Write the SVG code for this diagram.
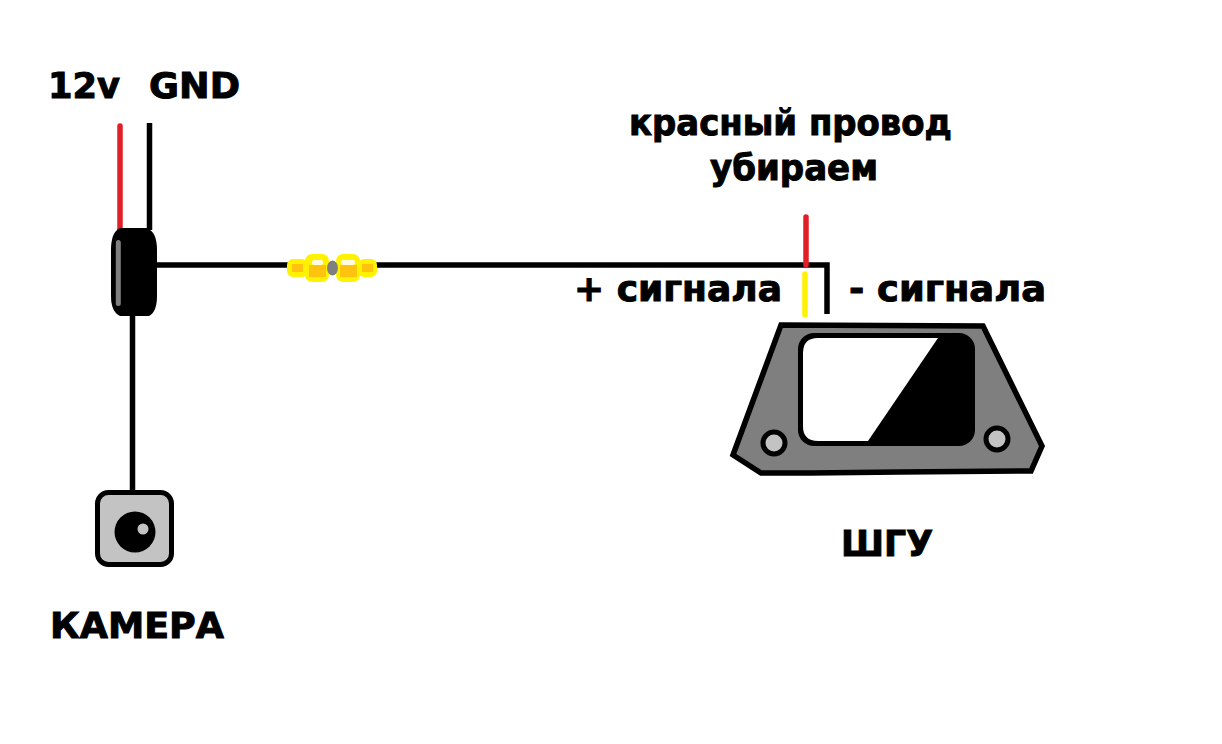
<svg xmlns="http://www.w3.org/2000/svg" width="1222" height="744" viewBox="0 0 1222 744">
<style>
.t{font-family:"DejaVu Sans",sans-serif;font-weight:700;font-size:36px;fill:#000;stroke:#000;stroke-width:1;paint-order:stroke}
.w{fill:none;stroke:#000;stroke-width:5.500}
.r{fill:none;stroke:#e01f26;stroke-width:5.500;stroke-linecap:round}
.y{fill:none;stroke:#fff200;stroke-width:5.500;stroke-linecap:round}
.o{fill:#7f7f7f;stroke:#000;stroke-width:5.500}
.h{fill:#c3c3c3;stroke:#000;stroke-width:5}
.c{fill:#fff200}
.f{fill:#ffc20e}
.v{fill:#fffbe0}
</style>
<rect width="1222" height="744" fill="#fff"/>
<g id="connectors">
<path class="r" d="M120 126V230"/>
<path class="w" d="M149.500 123V230"/>
<path class="w" d="M157 265H290M375 265H827V314"/>
<path class="w" d="M132.500 314V492"/>
<path class="r" d="M806 217V265"/>
<path class="y" d="M805 274V315"/>
</g>
<g id="splitter">
<path d="M120 228H147Q157 232 157 250V296Q157 312 149 316H120Q111 312 111 296V250Q111 232 120 228Z" fill="#000"/>
<path d="M118.300 242.500V303.500" stroke="#7f7f7f" stroke-width="5" stroke-linecap="round" fill="none"/>
</g>
<g id="inline-connector">
<rect class="c" x="287" y="259" width="21" height="18" rx="6"/>
<rect class="c" x="305" y="254" width="24" height="28" rx="7"/>
<rect class="c" x="336" y="254" width="24" height="28" rx="7"/>
<rect class="c" x="358" y="259" width="19" height="18" rx="6"/>
<rect class="f" x="292" y="264" width="11" height="8"/>
<rect class="f" x="309" y="265" width="17" height="12"/>
<rect class="f" x="340" y="265" width="17" height="12"/>
<rect class="f" x="362" y="264" width="11" height="8"/>
<rect class="v" x="312" y="260" width="11" height="5" rx="2"/>
<rect class="v" x="341" y="260" width="14" height="5" rx="2"/>
<ellipse cx="332.500" cy="268" rx="5.500" ry="7.500" fill="#7f7f7f"/>
</g>
<g id="camera">
<rect class="h" x="97.500" y="492.500" width="74" height="72" rx="11"/>
<circle cx="135" cy="532" r="20.500" fill="#000"/>
<circle cx="143" cy="529" r="5.500" fill="#c3c3c3"/>
</g>
<g id="head-unit">
<path class="o" d="M781 325L983 326L1042 446L1031 471L900 472L810 473L761 473L733 455Z"/>
<rect x="798" y="333" width="177" height="113" rx="16" fill="#000"/>
<path d="M938 338H818Q803 338 803 353V426Q803 441 818 441H868Z" fill="#fff"/>
<circle class="h" cx="774" cy="443" r="11"/>
<circle class="h" cx="997" cy="439" r="11"/>
</g>
<g id="labels">
<text class="t" x="48" y="98" textLength="72" lengthAdjust="spacingAndGlyphs">12v</text>
<text class="t" x="149" y="98" textLength="91" lengthAdjust="spacingAndGlyphs">GND</text>
<text class="t" x="629" y="135" textLength="323" lengthAdjust="spacingAndGlyphs">красный провод</text>
<text class="t" x="710" y="180" textLength="168" lengthAdjust="spacingAndGlyphs">убираем</text>
<text class="t" x="574" y="301" textLength="208" lengthAdjust="spacingAndGlyphs">+ сигнала</text>
<text class="t" x="849" y="301" textLength="197" lengthAdjust="spacingAndGlyphs">- сигнала</text>
<text class="t" x="841" y="556" textLength="92" lengthAdjust="spacingAndGlyphs">ШГУ</text>
<text class="t" x="50" y="638" textLength="174" lengthAdjust="spacingAndGlyphs">КАМЕРА</text>
</g>
</svg>
